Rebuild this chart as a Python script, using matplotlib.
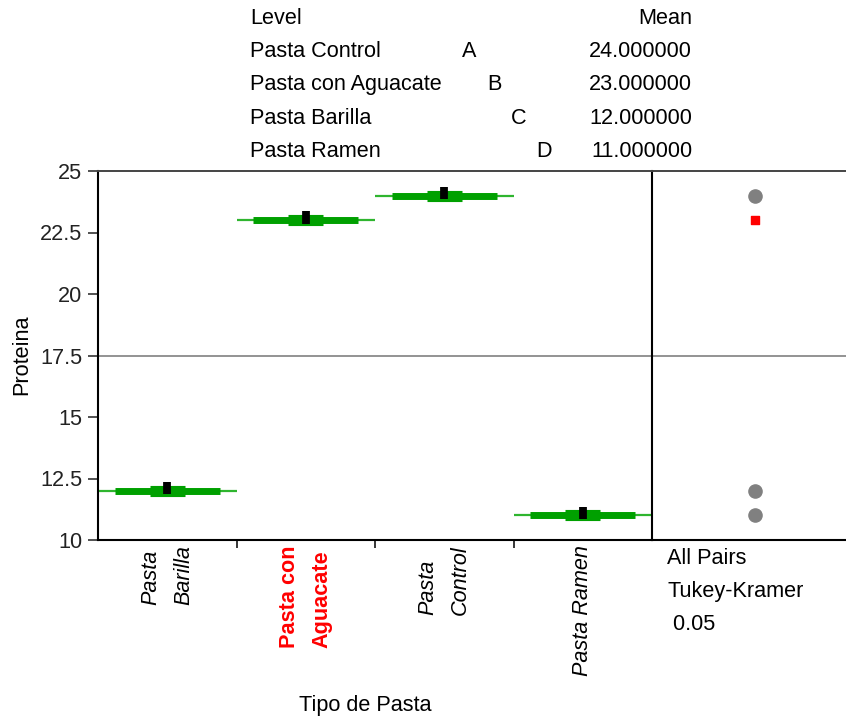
import matplotlib
matplotlib.use("Agg")
import matplotlib.pyplot as plt

plt.rcParams['font.family'] = ['Liberation Sans', 'DejaVu Sans']

# data
categories = ['Pasta\nBarilla', 'Pasta con\nAguacate', 'Pasta\nControl', 'Pasta Ramen']
means = [12, 23, 24, 11]
selected = 'Pasta con\nAguacate'
grand_mean = 17.5
yticks = [10, 12.5, 15, 17.5, 20, 22.5, 25]
ytick_labels = ['10', '12.5', '15', '17.5', '20', '22.5', '25']

table_levels = ['Pasta Control', 'Pasta con Aguacate', 'Pasta Barilla', 'Pasta Ramen']
table_letters = ['A', 'B', 'C', 'D']
table_means = [24.0, 23.0, 12.0, 11.0]

W, H = 846, 719
fig = plt.figure(figsize=(W / 100, H / 100), dpi=100)


def fx(px):
    return px / W


def fy(py):
    return 1 - py / H


FS = 15.6
green = '#00a000'
thin_green = '#2fb52f'

axr = fig.add_axes([fx(652), fy(540), fx(846) - fx(652), fy(171) - fy(540)])
ax = fig.add_axes([fx(98), fy(540), fx(652) - fx(98), fy(171) - fy(540)])
axr.patch.set_visible(False)
ax.patch.set_visible(False)

ax.set_xlim(0, 4)
ax.set_ylim(10, 25)
ax.axhline(grand_mean, color='#808080', lw=1.2, zorder=1)

for i, (cat, m) in enumerate(zip(categories, means)):
    c = i + 0.5
    ax.hlines(m, i, i + 1, color=thin_green, lw=1.6, zorder=2)
    ax.hlines(m, c - 0.38, c + 0.38, color=green, lw=5, zorder=3)
    ax.hlines(m, c - 0.126, c + 0.126, color=green, lw=8, zorder=4)
    ax.vlines(c, m - 0.14, m + 0.36, color='black', lw=5.6, zorder=5)
    if cat == selected:
        style, weight, color = 'normal', 'bold', 'red'
    else:
        style, weight, color = 'italic', 'normal', 'black'
    ax.annotate(cat, xy=(c, 0), xycoords=('data', 'axes fraction'),
                xytext=(0, -4), textcoords='offset points', rotation=90,
                ha='center', va='top', multialignment='left', linespacing=1.7,
                fontsize=FS, style=style, weight=weight, color=color)

ax.set_yticks(yticks)
ax.set_yticklabels(ytick_labels, fontsize=FS)
ax.set_xticks([1, 2, 3])
ax.set_xticklabels([])
ax.tick_params(axis='y', direction='out', length=7.5, width=1.1, pad=4, colors='#222222')
ax.tick_params(axis='x', direction='out', length=6, width=1.1)
for s in ['left', 'bottom', 'right']:
    ax.spines[s].set_color('black')
    ax.spines[s].set_linewidth(1.5)
ax.spines['top'].set_color('#444444')
ax.spines['top'].set_linewidth(1.4)

# comparison circles panel
axr.set_xlim(0, 1)
axr.set_ylim(10, 25)
axr.axhline(grand_mean, color='#808080', lw=1.2, zorder=1)
for cat, m in zip(categories, means):
    if cat == selected:
        axr.scatter([0.53], [m], s=34, marker='s', color='red', zorder=3)
    else:
        axr.scatter([0.53], [m], s=90, marker='o', color='#808080', zorder=3)
axr.set_xticks([])
axr.set_yticks([])
axr.spines['left'].set_visible(False)
axr.spines['right'].set_visible(False)
axr.spines['bottom'].set_color('black')
axr.spines['bottom'].set_linewidth(1.5)
axr.spines['top'].set_color('#444444')
axr.spines['top'].set_linewidth(1.4)

fig.text(fx(667), fy(558), 'All Pairs', fontsize=FS, ha='left', va='center')
fig.text(fx(667), fy(591), 'Tukey-Kramer', fontsize=FS, ha='left', va='center')
fig.text(fx(667), fy(624), ' 0.05', fontsize=FS, ha='left', va='center')

fig.text(fx(22), fy(355), 'Proteina', rotation=90, fontsize=FS, ha='center', va='center')
fig.text(fx(365), fy(706), 'Tipo de Pasta', fontsize=FS, ha='center', va='center')

# connecting letters report
fig.text(fx(250), fy(18), 'Level', fontsize=FS, ha='left', va='center')
fig.text(fx(692), fy(18), 'Mean', fontsize=FS, ha='right', va='center')
for k, (lev, let, mv) in enumerate(zip(table_levels, table_letters, table_means)):
    yy = 51.5 + k * 33.3
    fig.text(fx(250), fy(yy), lev, fontsize=FS, ha='left', va='center')
    fig.text(fx(469 + k * 25), fy(yy), let, fontsize=FS, ha='center', va='center')
    fig.text(fx(692), fy(yy), f'{mv:.6f}', fontsize=FS, ha='right', va='center')

fig.savefig('out.png', dpi=100)
